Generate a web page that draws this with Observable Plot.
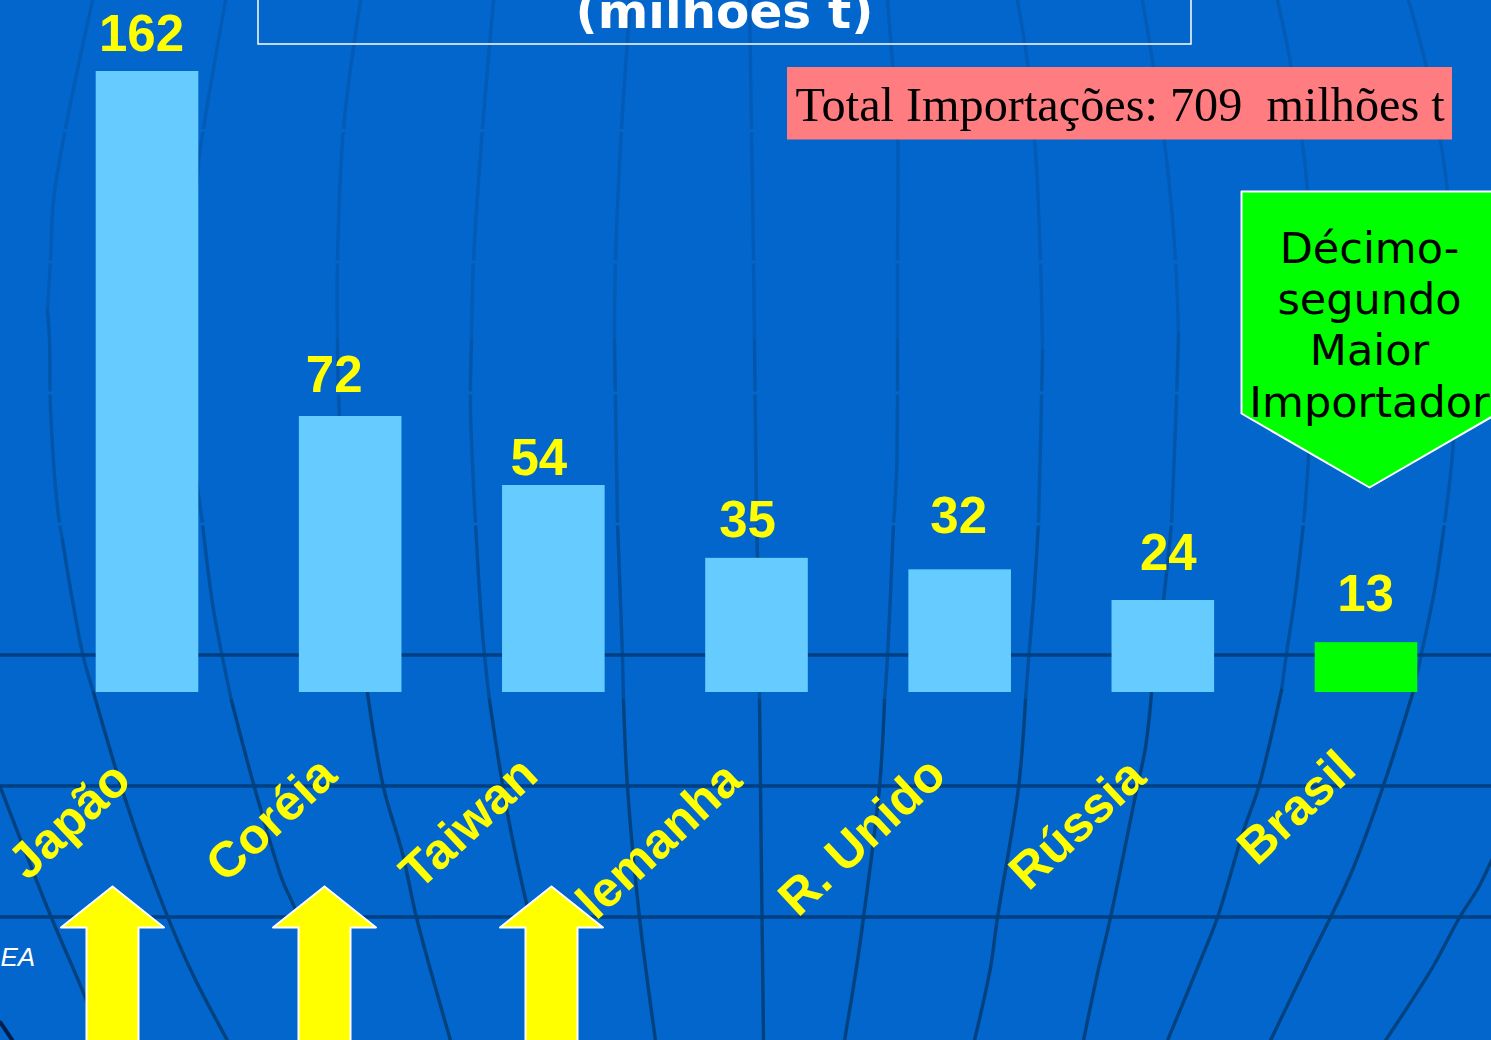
<!DOCTYPE html>
<html lang="pt">
<head>
<meta charset="utf-8">
<title>Total Importações</title>
<script src="https://cdn.jsdelivr.net/npm/d3@7"></script>
<script src="https://cdn.jsdelivr.net/npm/@observablehq/plot@0.6"></script>
<style>
  html, body { margin: 0; padding: 0; background: #0366cc; overflow: hidden; }
  #stage { position: relative; width: 1491px; height: 1040px; overflow: hidden; }
  #stage svg { position: absolute; left: 0; top: 0; }
</style>
</head>
<body>
<div id="stage"></div>
<script>
// ---- chart values ----
const countries = ["Japão", "Coréia", "Taiwan", "Alemanha", "R. Unido", "Rússia", "Brasil"];
const imports = [162, 72, 54, 35, 32, 24, 13];
const groups = ["outros", "outros", "outros", "outros", "outros", "outros", "Brasil"];
const totalLabel = "Total Importações: 709\u00a0\u00a0milhões t";
const titleLabel = "(milhões t)";
const calloutLines = ["Décimo-", "segundo", "Maior", "Importador"];
const sourceLabel = "EA";

// ---- background globe, in slide units ----
const meridians = [
  [[0,787],[48,910],[86,1000],[100,1040]],
  [[92,0],[65,128],[53,200],[50,260],[47,310],[49,340],[50,407],[57,507],[62,540],[72,600],[83,657],[93,692],[122,790],[153,880],[189,967],[227,1040]],
  [[225,0],[203,128],[197,173],[196,480],[202,523],[212,603],[222,657],[231,700],[254,787],[282,880],[294,907],[325,1000],[340,1040]],
  [[360,0],[343,128],[337,260],[337,340],[339,417],[350,560],[367,693],[383,787],[402,853],[416,917],[450,1040]],
  [[493,0],[482,128],[473,260],[471,340],[470,407],[475,523],[482,633],[489,700],[507,813],[526,903],[560,1040]],
  [[630,0],[621,128],[615,260],[614,340],[617,523],[622,657],[623,700],[627,787],[639,917],[655,1040]],
  [[749,0],[751,128],[753,260],[754,340],[756,523],[757,557],[759,700],[760,787],[763,1040]],
  [[887,0],[891,50],[897,128],[897,260],[897,340],[896,473],[893,523],[887,657],[884,700],[879,787],[863,917],[856,967],[844,1040]],
  [[1017,0],[1027,63],[1036,167],[1040,260],[1042,350],[1041,400],[1038,523],[1033,600],[1028,660],[1025,700],[1018,787],[997,917],[990,967],[974,1040]],
  [[1142,0],[1153,67],[1167,167],[1175,260],[1178,333],[1176,400],[1171,523],[1163,600],[1151,693],[1145,747],[1136,790],[1110,917],[1097,973],[1083,1040]],
  [[1277,0],[1290,63],[1307,190],[1312,330],[1308,457],[1303,523],[1294,600],[1286,653],[1281,690],[1258,787],[1243,830],[1217,917],[1200,960],[1167,1040]],
  [[1408,0],[1425,63],[1447,190],[1455,330],[1453,440],[1444,523],[1434,590],[1421,653],[1413,690],[1387,773],[1353,867],[1330,917],[1310,957],[1270,1040]],
  [[1491,860],[1478,887],[1459,917],[1432,967],[1385,1040]]
];
const darkParallels = [654.5, 785.5, 916.5];
const faintParallels = [130, 261.5, 392.5, 523.5];

// ---- shapes, in slide units ----
const arrowCenters = [112, 324, 551];
const titleBox = [{x1: 258, x2: 1191, y1: -20, y2: 44}];
const totalBox = [{x1: 787, x2: 1452, y1: 67, y2: 139.5}];
const calloutOutline = [[1241,191],[1497,191],[1497,413],[1369,487],[1241,413],[1241,191]];
const cornerLine = [[0,1022],[12,1040]];

// ---- small hand-placement nudges for the labels, as in the slide ----
const valueDx = [-6, -16.5, -15, -9.5, -1.5, 5, -1];
const valueDy = [-20, -25, -11, -21, -37, -31, -32];
const nameEnd = [[122,771],[328,766],[529,766],[733,771],[937,766],[1137,768],[1347,760]];

const layer = (marks, extra = {}) => Plot.plot({
  width: 1491, height: 1040,
  marginLeft: 0, marginRight: 0, marginTop: 0, marginBottom: 0,
  style: {background: "transparent", overflow: "hidden"},
  marks, ...extra
});
const slide = {
  x: {domain: [0, 1491], range: [0, 1491], axis: null},
  y: {domain: [0, 1040], range: [0, 1040], axis: null}
};

const tier = y => y < 262 ? "#045bb6" : y < 523 ? "#0256aa" : y < 690 ? "#004f9d" : "#00427f";
const meridianPoints = meridians.flatMap((m, id) => m.map(([x, y]) => ({id, x, y})));

const back = layer([
  Plot.frame({fill: "#0366cc", stroke: null}),
  Plot.line(meridianPoints, {x: "x", y: "y", z: "id", stroke: d => tier(d.y), strokeWidth: 3.4, curve: "catmull-rom"}),
  Plot.ruleY(faintParallels, {stroke: "#0366cc", strokeWidth: 3}),
  Plot.ruleY(darkParallels, {stroke: "#003f80", strokeWidth: 3.4}),
  Plot.line(cornerLine, {x: d => d[0], y: d => d[1], stroke: "#001f4d", strokeWidth: 4}),
  Plot.rect(titleBox, {x1: "x1", x2: "x2", y1: "y1", y2: "y2", fill: "none", stroke: "#ffffff", strokeWidth: 1.5}),
  Plot.text([titleLabel], {x: () => 724, y: () => 27, text: d => d, fill: "#ffffff", fontFamily: "DejaVu Sans", fontWeight: "bold", fontSize: 48.5, lineAnchor: "bottom", textAnchor: "middle"}),
  Plot.text([sourceLabel], {x: () => 0, y: () => 965, text: d => d, fill: "#ffffff", fontFamily: "Liberation Sans", fontStyle: "italic", fontSize: 26, lineAnchor: "bottom", textAnchor: "start"})
], slide);

const rows = countries.map((country, i) => ({country, value: imports[i], group: groups[i]}));
const chart = layer([
  Plot.barY(rows, {x: "country", y: "value", fill: "group"}),
  ...rows.map((d, i) => Plot.text([d], {
    x: "country", y: "value", text: r => String(r.value),
    dx: valueDx[i], dy: valueDy[i],
    fill: "#ffff00", fontFamily: "Liberation Sans", fontWeight: "bold", fontSize: 51,
    lineAnchor: "bottom", textAnchor: "middle"
  }))
], {
  x: {type: "band", domain: countries, range: [147 - 101.58, 1366 + 101.58], paddingInner: 0.495, paddingOuter: 0.2475, align: 0.5, round: false, axis: null},
  y: {domain: [-90.78, 180.52], range: [1040, 0], axis: null},
  color: {domain: ["outros", "Brasil"], range: ["#66ccff", "#00ff00"]}
});

const nameRows = countries.map((name, i) => ({name, x: nameEnd[i][0], y: nameEnd[i][1]}));
const arrowPoints = arrowCenters.flatMap((c, id) => [
  [c, 886], [c + 51.5, 927], [c + 26, 927], [c + 26, 1060], [c - 26, 1060], [c - 26, 927], [c - 51.5, 927], [c, 886]
].map(([x, y]) => ({id, x, y})));

const front = layer([
  Plot.text(nameRows, {x: "x", y: "y", text: "name", rotate: -43, fill: "#ffff00", fontFamily: "Liberation Sans", fontWeight: "bold", fontSize: 50, textAnchor: "end", lineAnchor: "middle"}),
  Plot.line(arrowPoints, {x: "x", y: "y", z: "id", fill: "#ffff00", stroke: "#ffffff", strokeWidth: 2}),
  Plot.rect(totalBox, {x1: "x1", x2: "x2", y1: "y1", y2: "y2", fill: "#ff7c80"}),
  Plot.text([totalLabel], {x: () => 795, y: () => 120, text: d => d, fill: "#000000", fontFamily: "Liberation Serif", fontSize: 48.25, textAnchor: "start", lineAnchor: "bottom"}),
  Plot.line(calloutOutline, {x: d => d[0], y: d => d[1], fill: "#00ff00", stroke: "#ffffff", strokeWidth: 2}),
  Plot.text(calloutLines, {x: () => 1369, y: (d, i) => [262, 313, 364, 416][i], text: d => d, fill: "#000000", fontFamily: "DejaVu Sans", fontSize: 43, textAnchor: "middle", lineAnchor: "bottom"})
], slide);

const stage = document.getElementById("stage");
stage.append(back, chart, front);
</script>
</body>
</html>
